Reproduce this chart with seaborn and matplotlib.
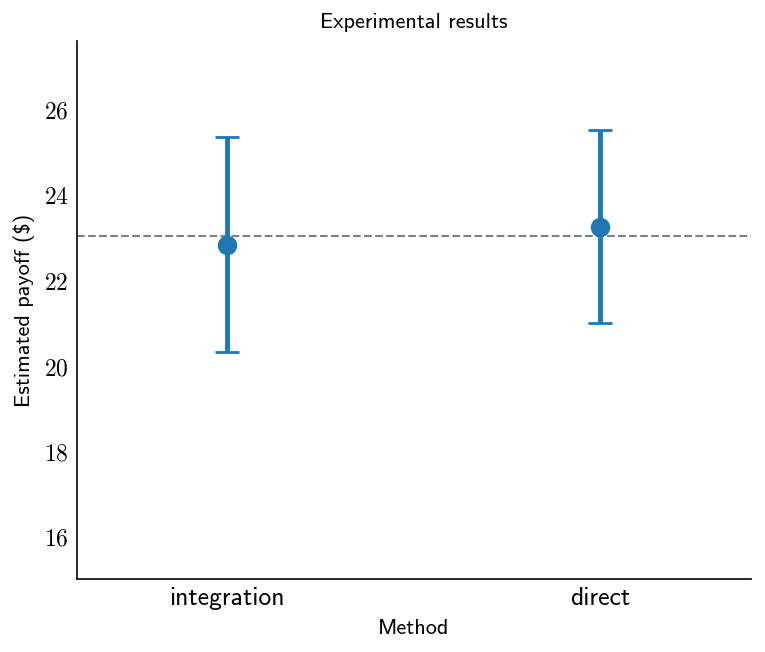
import matplotlib
matplotlib.use("Agg")
import matplotlib.pyplot as plt
from matplotlib.lines import Line2D
import seaborn as sns
import pandas as pd
import numpy as np

methods = ["integration", "direct"]
estimates = [22.83, 23.25]
lower = [20.31, 20.99]
upper = [25.35, 25.51]
reference_value = 23.04
yticks = [16, 18, 20, 22, 24, 26]

rows = []
for m, lo, est, hi in zip(methods, lower, estimates, upper):
    for v in (lo, est, hi):
        rows.append({"Method": m, "payoff": v})
df = pd.DataFrame(rows)

sns.set_style("white")
plt.rcParams["mathtext.fontset"] = "cm"
plt.rcParams["text.color"] = "black"
plt.rcParams["axes.labelcolor"] = "black"
plt.rcParams["xtick.color"] = "black"
plt.rcParams["ytick.color"] = "black"

fig = plt.figure(figsize=(7.65, 6.52), dpi=100)
ax = fig.add_axes([77 / 765, 1 - 579 / 652, (751 - 77) / 765, (579 - 41) / 652])

n_before = len(ax.lines)
sns.pointplot(data=df, x="Method", y="payoff", order=methods,
              estimator="median", errorbar=lambda x: (x.min(), x.max()),
              color="#1f77b4", linestyle="none", capsize=0.066,
              markersize=12, err_kws={"linewidth": 3.5}, ax=ax)

# Split seaborn's errorbar lines: keep the vertical bar thick, redraw caps thinner
for ln in list(ax.lines[n_before:]):
    x = np.asarray(ln.get_xdata(), dtype=float)
    y = np.asarray(ln.get_ydata(), dtype=float)
    if len(x) == 8 and np.isnan(x).sum() == 2:
        cap1 = (x[0:2], y[0:2])
        bar = (x[3:5], y[3:5])
        cap2 = (x[6:8], y[6:8])
        ln.set_data(*bar)
        ln.set_solid_capstyle("butt")
        for cx, cy in (cap1, cap2):
            ax.add_line(Line2D(cx, cy, color=ln.get_color(), linewidth=2.0,
                               zorder=ln.get_zorder(), solid_capstyle="butt"))

ax.axhline(reference_value, color="gray", linestyle="--", linewidth=1.5, zorder=0)

ax.set_ylim(15.0, 27.6)
ax.set_xlim(-0.402, 1.405)
ax.set_yticks(yticks)
ax.set_yticklabels([f"${t}$" for t in yticks], fontsize=17)
ax.set_xticks(range(len(methods)))
ax.set_xticklabels(methods, family="cmss10", fontsize=18.5)
ax.tick_params(axis="both", length=0, pad=6, labelcolor="black")

ax.set_xlabel("Method", family="cmss10", fontsize=16, labelpad=6, color="black")
ax.set_ylabel("Estimated payoff ($)", family="cmss10", fontsize=16, labelpad=6, color="black")
ax.set_title("Experimental results", family="cmss10", fontsize=16, pad=9, color="black")

for side in ["top", "right"]:
    ax.spines[side].set_visible(False)
for side in ["left", "bottom"]:
    ax.spines[side].set_color("#1a1a1a")
    ax.spines[side].set_linewidth(1.3)

fig.savefig("out.png", dpi=100)
